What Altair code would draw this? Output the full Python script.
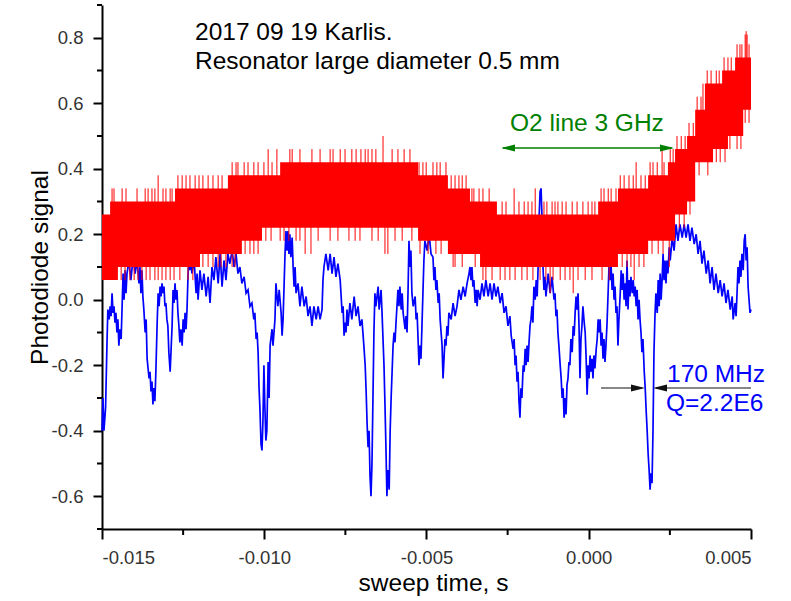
import altair as alt
import pandas as pd

# ---------------- data (time in ms, signal in V) ----------------
blue_trace = [
(-15.00,-0.40),(-14.97,-0.30),(-14.94,-0.40),(-14.89,-0.33),(-14.85,-0.15),(-14.82,-0.03),(-14.78,-0.06),(-14.75,-0.02),(-14.72,-0.05),(-14.69,0.02),
(-14.66,-0.04),(-14.63,-0.02),(-14.60,-0.07),(-14.57,-0.04),(-14.54,-0.10),(-14.51,-0.06),(-14.48,-0.14),(-14.45,-0.09),(-14.41,-0.12),(-14.38,-0.02),
(-14.35,0.08),(-14.32,0.00),(-14.29,0.09),(-14.26,0.02),(-14.23,0.08),(-14.17,0.12),(-14.11,0.06),(-14.04,0.13),(-13.98,0.08),(-13.92,0.12),
(-13.86,0.05),(-13.83,0.10),(-13.80,0.02),(-13.77,0.09),(-13.74,0.01),(-13.71,-0.03),(-13.67,-0.10),(-13.64,-0.06),(-13.61,-0.18),(-13.58,-0.21),
(-13.55,-0.24),(-13.52,-0.22),(-13.49,-0.28),(-13.46,-0.25),(-13.43,-0.32),(-13.40,-0.27),(-13.37,-0.31),(-13.34,-0.22),(-13.30,-0.07),(-13.27,0.02),
(-13.24,-0.02),(-13.21,0.04),(-13.18,0.01),(-13.15,0.05),(-13.12,0.02),(-13.09,0.04),(-13.06,-0.02),(-13.03,-0.01),(-13.00,-0.06),(-12.97,-0.08),
(-12.94,-0.16),(-12.90,-0.22),(-12.87,-0.15),(-12.84,-0.08),(-12.81,0.03),(-12.78,-0.01),(-12.75,0.05),(-12.72,0.00),(-12.69,0.03),(-12.66,-0.04),
(-12.63,-0.08),(-12.60,-0.13),(-12.57,-0.09),(-12.53,-0.14),(-12.50,-0.06),(-12.47,-0.10),(-12.44,-0.04),(-12.41,-0.09),(-12.38,-0.03),(-12.35,0.07),
(-12.32,0.14),(-12.29,0.09),(-12.26,0.13),(-12.23,0.08),(-12.16,0.12),(-12.10,0.02),(-12.07,0.08),(-12.04,0.00),(-11.98,0.09),(-11.92,0.03),
(-11.86,0.08),(-11.79,0.01),(-11.73,0.07),(-11.67,-0.01),(-11.61,0.10),(-11.55,0.06),(-11.49,0.13),(-11.42,0.05),(-11.36,0.14),(-11.30,0.04),
(-11.24,0.12),(-11.18,0.06),(-11.12,0.14),(-11.06,0.11),(-10.99,0.15),(-10.93,0.10),(-10.87,0.14),(-10.81,0.08),(-10.75,0.10),(-10.69,0.05),
(-10.62,0.07),(-10.56,0.02),(-10.50,0.03),(-10.44,-0.02),(-10.38,-0.01),(-10.32,-0.06),(-10.29,-0.04),(-10.25,-0.12),(-10.22,-0.10),(-10.19,-0.16),
(-10.16,-0.27),(-10.13,-0.34),(-10.10,-0.44),(-10.07,-0.46),(-10.04,-0.37),(-10.01,-0.20),(-9.98,-0.33),(-9.95,-0.43),(-9.92,-0.40),(-9.88,-0.19),
(-9.85,-0.30),(-9.82,-0.14),(-9.76,-0.09),(-9.73,-0.14),(-9.67,-0.06),(-9.64,0.05),(-9.58,-0.02),(-9.54,0.03),(-9.48,-0.04),(-9.45,-0.11),
(-9.42,-0.06),(-9.39,0.04),(-9.36,0.14),(-9.33,0.21),(-9.30,0.15),(-9.27,0.21),(-9.24,0.14),(-9.21,0.20),(-9.18,0.13),(-9.14,0.19),
(-9.11,0.10),(-9.08,0.04),(-9.05,0.10),(-9.02,0.02),(-8.96,0.05),(-8.90,-0.02),(-8.84,0.04),(-8.77,-0.02),(-8.71,0.01),(-8.65,-0.05),
(-8.59,-0.02),(-8.53,-0.08),(-8.47,-0.02),(-8.40,-0.06),(-8.34,-0.02),(-8.28,-0.06),(-8.22,-0.03),(-8.19,0.06),(-8.16,0.10),(-8.10,0.14),
(-8.03,0.09),(-7.97,0.14),(-7.91,0.08),(-7.85,0.13),(-7.79,0.07),(-7.73,0.11),(-7.66,0.06),(-7.63,0.01),(-7.60,-0.04),(-7.57,-0.02),
(-7.54,-0.11),(-7.51,-0.07),(-7.48,-0.10),(-7.45,-0.03),(-7.42,-0.08),(-7.36,-0.01),(-7.30,-0.06),(-7.23,0.01),(-7.17,-0.05),(-7.11,-0.02),
(-7.05,-0.08),(-6.99,-0.06),(-6.93,-0.14),(-6.89,-0.20),(-6.86,-0.28),(-6.83,-0.38),(-6.80,-0.45),(-6.77,-0.40),(-6.74,-0.54),(-6.71,-0.60),
(-6.68,-0.50),(-6.65,-0.30),(-6.62,-0.10),(-6.59,0.02),(-6.56,-0.02),(-6.49,0.04),(-6.46,-0.03),(-6.40,0.03),(-6.37,-0.04),(-6.34,-0.12),
(-6.31,-0.20),(-6.28,-0.32),(-6.25,-0.45),(-6.22,-0.60),(-6.19,-0.52),(-6.15,-0.58),(-6.12,-0.40),(-6.09,-0.30),(-6.06,-0.22),(-6.03,-0.14),
(-6.00,-0.10),(-5.97,-0.13),(-5.94,-0.07),(-5.88,0.03),(-5.85,-0.02),(-5.82,0.04),(-5.78,-0.03),(-5.75,0.02),(-5.72,-0.04),(-5.66,-0.09),
(-5.63,-0.05),(-5.60,-0.10),(-5.57,0.02),(-5.54,0.18),(-5.51,0.10),(-5.48,0.15),(-5.45,0.02),(-5.41,-0.02),(-5.35,0.01),(-5.32,-0.06),
(-5.29,-0.04),(-5.26,-0.12),(-5.23,-0.20),(-5.20,-0.14),(-5.17,-0.18),(-5.14,-0.08),(-5.11,0.02),(-5.08,0.12),(-5.05,0.18),(-4.98,0.15),
(-4.92,0.20),(-4.86,0.14),(-4.80,0.13),(-4.77,0.06),(-4.74,0.10),(-4.71,0.03),(-4.68,0.06),(-4.64,-0.01),(-4.61,0.02),(-4.58,-0.06),
(-4.55,-0.10),(-4.52,-0.14),(-4.49,-0.24),(-4.46,-0.18),(-4.43,-0.12),(-4.40,-0.14),(-4.37,-0.08),(-4.34,-0.11),(-4.31,-0.04),(-4.24,-0.06),
(-4.18,-0.01),(-4.12,-0.05),(-4.06,-0.02),(-4.00,0.03),(-3.94,0.00),(-3.87,0.04),(-3.81,0.01),(-3.75,0.05),(-3.69,0.08),(-3.66,0.10),
(-3.63,0.06),(-3.60,0.10),(-3.57,0.04),(-3.54,0.06),(-3.50,-0.01),(-3.47,0.03),(-3.44,-0.02),(-3.41,0.03),(-3.35,0.00),(-3.29,0.05),
(-3.23,0.01),(-3.17,0.06),(-3.10,0.01),(-3.04,0.05),(-2.98,0.00),(-2.92,0.05),(-2.86,0.01),(-2.80,0.04),(-2.73,-0.01),(-2.67,0.02),
(-2.61,-0.04),(-2.55,-0.02),(-2.49,-0.08),(-2.43,-0.05),(-2.39,-0.11),(-2.33,-0.15),(-2.30,-0.12),(-2.27,-0.20),(-2.24,-0.17),(-2.21,-0.25),
(-2.18,-0.22),(-2.15,-0.31),(-2.12,-0.36),(-2.09,-0.27),(-2.06,-0.30),(-2.02,-0.20),(-1.99,-0.22),(-1.96,-0.15),(-1.93,-0.20),(-1.90,-0.14),
(-1.87,-0.19),(-1.84,-0.13),(-1.81,-0.08),(-1.78,-0.06),(-1.75,-0.02),(-1.72,-0.07),(-1.69,0.04),(-1.65,0.00),(-1.62,0.06),(-1.59,0.01),
(-1.56,0.10),(-1.53,0.25),(-1.50,0.33),(-1.47,0.34),(-1.44,0.25),(-1.41,0.10),(-1.38,0.03),(-1.35,0.07),(-1.32,0.01),(-1.25,0.08),
(-1.19,0.02),(-1.13,0.07),(-1.07,0.00),(-1.04,0.02),(-1.01,-0.05),(-0.98,-0.03),(-0.95,-0.10),(-0.92,-0.14),(-0.88,-0.20),(-0.85,-0.24),
(-0.82,-0.30),(-0.79,-0.27),(-0.76,-0.36),(-0.73,-0.30),(-0.70,-0.35),(-0.67,-0.26),(-0.64,-0.24),(-0.61,-0.19),(-0.58,-0.20),(-0.55,-0.12),
(-0.51,-0.16),(-0.48,-0.08),(-0.45,-0.11),(-0.42,-0.04),(-0.39,0.01),(-0.36,-0.03),(-0.33,0.02),(-0.30,-0.08),(-0.27,-0.24),(-0.24,-0.12),
(-0.21,-0.08),(-0.18,-0.02),(-0.14,-0.07),(-0.11,-0.10),(-0.08,-0.18),(-0.05,-0.29),(-0.02,-0.20),(0.01,-0.24),(0.04,-0.17),(0.07,-0.22),
(0.10,-0.18),(0.13,-0.24),(0.16,-0.17),(0.19,-0.21),(0.23,-0.15),(0.26,-0.12),(0.29,-0.06),(0.32,-0.10),(0.35,-0.06),(0.38,-0.14),
(0.41,-0.10),(0.44,-0.18),(0.47,-0.12),(0.50,-0.19),(0.53,-0.14),(0.56,-0.08),(0.60,0.03),(0.63,0.12),(0.66,0.06),(0.69,0.10),
(0.72,0.03),(0.75,0.08),(0.78,0.00),(0.81,0.04),(0.84,-0.04),(0.87,-0.02),(0.90,-0.14),(0.93,-0.06),(0.97,0.02),(1.00,0.09),
(1.03,0.03),(1.06,0.08),(1.09,0.00),(1.12,0.05),(1.15,-0.02),(1.18,0.12),(1.21,-0.03),(1.24,0.06),(1.27,0.01),(1.30,0.07),
(1.34,0.02),(1.37,0.06),(1.40,0.01),(1.43,0.04),(1.46,-0.02),(1.49,0.03),(1.52,-0.06),(1.55,0.00),(1.58,-0.06),(1.61,-0.10),
(1.64,-0.16),(1.67,-0.12),(1.71,-0.22),(1.74,-0.27),(1.77,-0.34),(1.80,-0.40),(1.83,-0.47),(1.86,-0.52),(1.89,-0.58),(1.92,-0.53),
(1.95,-0.56),(1.98,-0.40),(2.01,-0.16),(2.04,-0.05),(2.07,0.02),(2.11,-0.04),(2.14,0.06),(2.17,-0.02),(2.20,0.08),(2.23,0.00),
(2.26,0.06),(2.29,0.14),(2.32,0.06),(2.35,0.12),(2.38,0.05),(2.41,0.12),(2.44,0.08),(2.48,0.16),(2.51,0.12),(2.57,0.19),
(2.63,0.15),(2.69,0.23),(2.75,0.18),(2.81,0.23),(2.88,0.19),(2.94,0.23),(3.00,0.19),(3.06,0.23),(3.12,0.18),(3.18,0.22),
(3.25,0.17),(3.31,0.20),(3.37,0.14),(3.43,0.18),(3.49,0.11),(3.55,0.15),(3.62,0.08),(3.68,0.12),(3.74,0.05),(3.80,0.10),
(3.86,0.03),(3.92,0.08),(3.99,0.02),(4.05,0.06),(4.11,0.01),(4.17,0.05),(4.23,-0.01),(4.29,0.03),(4.36,-0.03),(4.42,0.01),
(4.45,-0.06),(4.51,-0.01),(4.54,-0.05),(4.57,0.02),(4.60,0.10),(4.63,0.05),(4.66,0.12),(4.69,0.07),(4.72,0.14),(4.76,0.09),
(4.79,0.18),(4.82,0.20),(4.85,0.12),(4.88,0.16),(4.91,0.04),(4.94,0.00),(4.97,-0.04),(5.00,-0.03),
]

# red trace: dense band (step levels) ...
band_ms = [-15.00, -14.75, -14.51, -12.75, -11.98, -11.12, -10.69, -10.07, -9.51, -5.26,
           -4.34, -3.66, -3.35, -2.83, 0.29, 0.90, 1.83, 2.44, 2.66, 3.03,
           3.28, 3.58, 3.83, 4.11, 4.29, 4.51, 4.76, 5.00]
band_lo = [0.06, 0.06, 0.10, 0.10, 0.14, 0.14, 0.18, 0.22, 0.22, 0.18,
           0.14, 0.14, 0.10, 0.10, 0.10, 0.14, 0.18, 0.18, 0.26, 0.30,
           0.42, 0.42, 0.46, 0.46, 0.50, 0.50, 0.58, 0.58]
band_hi = [0.26, 0.30, 0.30, 0.34, 0.34, 0.38, 0.38, 0.38, 0.42, 0.38,
           0.34, 0.30, 0.30, 0.26, 0.30, 0.34, 0.38, 0.42, 0.46, 0.50,
           0.58, 0.66, 0.66, 0.70, 0.70, 0.74, 0.74, 0.74]

# ... and its isolated excursions (time ms, tip value)
spikes_up = [
(-14.69,0.34),(-14.63,0.34),(-14.38,0.34),(-14.26,0.34),(-13.92,0.34),(-13.67,0.34),(-13.58,0.34),(-13.46,0.34),(-13.37,0.34),(-13.27,0.38),
(-13.12,0.34),(-13.03,0.34),(-12.90,0.34),(-12.84,0.34),(-12.66,0.38),(-12.53,0.38),(-12.41,0.38),(-12.29,0.38),(-12.13,0.38),(-12.01,0.38),
(-11.89,0.38),(-11.73,0.38),(-11.58,0.38),(-11.42,0.38),(-11.30,0.38),(-10.99,0.42),(-10.87,0.42),(-10.81,0.42),(-10.62,0.42),(-10.50,0.42),
(-10.32,0.42),(-10.19,0.42),(-10.01,0.42),(-9.88,0.46),(-9.76,0.42),(-9.61,0.46),(-9.21,0.46),(-9.14,0.46),(-8.90,0.46),(-8.53,0.46),
(-8.28,0.46),(-7.97,0.46),(-7.88,0.46),(-7.66,0.46),(-7.51,0.46),(-7.30,0.46),(-7.17,0.46),(-7.02,0.46),(-6.89,0.46),(-6.80,0.46),
(-6.68,0.46),(-6.56,0.46),(-6.34,0.50),(-6.06,0.46),(-5.88,0.46),(-5.69,0.46),(-5.51,0.46),(-5.23,0.42),(-5.11,0.42),(-5.01,0.42),
(-4.80,0.42),(-4.68,0.42),(-4.58,0.42),(-4.40,0.42),(-4.24,0.38),(-4.12,0.38),(-4.00,0.38),(-3.90,0.38),(-3.78,0.38),(-3.60,0.34),
(-3.54,0.34),(-3.38,0.34),(-3.26,0.34),(-3.07,0.34),(-2.67,0.30),(-2.55,0.30),(-2.30,0.34),(-2.15,0.30),(-1.99,0.30),(-1.87,0.30),
(-1.75,0.30),(-1.65,0.34),(-1.38,0.30),(-1.29,0.30),(-1.13,0.30),(-1.04,0.30),(-0.95,0.30),(-0.82,0.30),(-0.70,0.30),(-0.51,0.30),
(-0.36,0.30),(-0.18,0.30),(-0.02,0.30),(0.10,0.30),(0.19,0.30),(0.38,0.34),(0.47,0.34),(0.60,0.34),(0.69,0.34),(0.84,0.34),
(0.97,0.38),(1.09,0.38),(1.24,0.38),(1.37,0.38),(1.46,0.42),(1.61,0.38),(1.74,0.38),(1.89,0.42),(1.98,0.42),(2.11,0.42),
(2.26,0.46),(2.32,0.42),(2.51,0.46),(2.60,0.46),(2.72,0.50),(2.85,0.50),(2.97,0.50),(3.09,0.54),(3.22,0.54),(3.34,0.62),
(3.46,0.62),(3.52,0.66),(3.65,0.70),(3.77,0.70),(3.93,0.70),(4.02,0.70),(4.17,0.74),(4.29,0.74),(4.39,0.74),(4.57,0.78),
(4.66,0.78),(4.72,0.78),(4.82,0.81),(4.85,0.82),(4.88,0.81),(4.94,0.78),
]
spikes_down = [
(-14.41,0.06),(-14.29,0.06),(-14.14,0.06),(-14.01,0.06),(-13.89,0.06),(-13.77,0.06),(-13.64,0.06),(-13.52,0.06),(-13.37,0.06),(-13.27,0.06),
(-13.15,0.06),(-13.03,0.06),(-12.90,0.06),(-12.78,0.06),(-12.60,0.06),(-12.35,0.06),(-12.20,0.06),(-11.89,0.10),(-11.73,0.10),(-11.58,0.10),
(-11.42,0.10),(-11.33,0.10),(-11.18,0.10),(-10.99,0.10),(-10.90,0.10),(-10.59,0.14),(-10.44,0.14),(-10.32,0.14),(-10.19,0.14),(-9.95,0.18),
(-9.79,0.18),(-9.51,0.18),(-9.39,0.18),(-9.24,0.18),(-9.02,0.18),(-8.90,0.18),(-8.74,0.14),(-8.56,0.14),(-8.34,0.18),(-7.97,0.18),
(-7.73,0.18),(-7.39,0.18),(-7.20,0.18),(-7.05,0.18),(-6.68,0.18),(-6.49,0.18),(-6.28,0.14),(-6.19,0.14),(-5.97,0.18),(-5.75,0.18),
(-5.45,0.18),(-5.20,0.14),(-4.95,0.14),(-4.71,0.14),(-4.55,0.14),(-4.18,0.10),(-4.12,0.10),(-3.90,0.10),(-3.50,0.10),(-3.26,0.06),
(-3.17,0.06),(-2.98,0.06),(-2.73,0.06),(-2.58,0.06),(-2.43,0.06),(-2.27,0.06),(-2.06,0.06),(-1.90,0.06),(-1.72,0.06),(-1.50,0.06),
(-1.32,0.06),(-1.19,0.02),(-1.10,0.06),(-0.88,0.06),(-0.73,0.06),(-0.58,0.06),(-0.48,0.02),(-0.33,0.06),(-0.11,0.06),(0.10,0.06),
(0.41,0.06),(0.63,0.06),(1.03,0.10),(1.18,0.10),(1.30,0.10),(1.40,0.06),(1.55,0.10),(1.70,0.10),(1.95,0.14),(2.14,0.14),
(2.29,0.14),(2.48,0.10),(2.79,0.22),(2.94,0.22),(3.12,0.26),(3.40,0.38),(3.67,0.38),(3.93,0.42),(4.05,0.42),(4.20,0.42),
(4.35,0.46),(4.57,0.46),(4.69,0.46),(4.82,0.54),(4.94,0.54),
]

x_ticks = [-0.015, -0.010, -0.005, 0.0, 0.005]
x_minor = [-0.0125, -0.0075, -0.0025, 0.0025]
y_ticks = [-0.6, -0.4, -0.2, 0.0, 0.2, 0.4, 0.6, 0.8]
y_minor = [-0.7, -0.5, -0.3, -0.1, 0.1, 0.3, 0.5, 0.7, 0.9]

# ---------------- tables ----------------
blue = pd.DataFrame(blue_trace, columns=["ms", "v"])
blue["t"] = blue["ms"] / 1000.0

band = pd.DataFrame({"t": [m / 1000.0 for m in band_ms], "lo": band_lo, "hi": band_hi})
band["mid"] = (band["lo"] + band["hi"]) / 2.0

spk = pd.DataFrame(spikes_up + spikes_down, columns=["ms", "v"])
spk["t"] = spk["ms"] / 1000.0
spk = spk.sort_values("t").reset_index(drop=True)
spk = pd.merge_asof(spk, band[["t", "mid"]].sort_values("t"), on="t")

FONT = "Liberation Sans"
xscale = alt.Scale(domain=[-0.015, 0.005], nice=False, zero=False)
yscale = alt.Scale(domain=[-0.7, 0.9], nice=False, zero=False)

xaxis = alt.Axis(
    values=x_ticks,
    labelExpr="replace(format(datum.value, '.3f'), '\u2212', '-')",
    title="sweep time, s",
    tickSize=10, labelPadding=9,
    titleBaseline="alphabetic", titleY=61, titleX=331, titleAlign="center",
)
yaxis = alt.Axis(
    values=y_ticks,
    labelExpr="replace(format(datum.value, '.1f'), '\u2212', '-')",
    title="Photodiode signal",
    tickSize=9, labelPadding=10,
    titleBaseline="alphabetic", titleX=-55, titleY=262, titleAlign="center",
)


def X(field):
    return alt.X(field, scale=xscale, axis=xaxis)


def Y(field):
    return alt.Y(field, scale=yscale, axis=yaxis)


blue_layer = alt.Chart(blue).mark_line(color="#0000ff", strokeWidth=1.7).encode(
    x=X("t:Q"), y=Y("v:Q"),
)

band_layer = alt.Chart(band).mark_area(color="#ff0000", interpolate="step-after", opacity=1).encode(
    x=X("t:Q"), y=Y("lo:Q"), y2="hi:Q",
)

spike_layer = alt.Chart(spk).mark_rule(color="#ff0000", strokeWidth=1).encode(
    x=X("t:Q"), y=Y("v:Q"), y2="mid:Q",
)

xminor_layer = alt.Chart(pd.DataFrame({"t": x_minor})).mark_rule(color="black", strokeWidth=2).encode(
    x=X("t:Q"), y=alt.value(524), y2=alt.value(530),
)
yminor_layer = alt.Chart(pd.DataFrame({"v": y_minor})).mark_rule(color="black", strokeWidth=2).encode(
    y=Y("v:Q"), x=alt.value(-5), x2=alt.value(0),
)

one = pd.DataFrame({"k": [0]})


def label(txt, x, y, color="black"):
    return alt.Chart(one).mark_text(
        text=txt, align="left", baseline="alphabetic", font=FONT, fontSize=24.5, color=color
    ).encode(x=alt.value(x), y=alt.value(y))


def hline(x1, x2, y, color, w):
    return alt.Chart(one).mark_rule(color=color, strokeWidth=w).encode(
        x=alt.value(x1), x2=alt.value(x2), y=alt.value(y)
    )


HEAD_R = "M1,0L-1,-0.5L-1,0.5Z"
HEAD_L = "M-1,0L1,-0.5L1,0.5Z"


def head(shape, x, y, color):
    return alt.Chart(one).mark_point(
        shape=shape, filled=True, size=196, color=color, opacity=1, strokeWidth=0
    ).encode(x=alt.value(x), y=alt.value(y))


GREEN = "#008000"
annotations = [
    label("2017 09 19 Karlis.", 93, 34.5),
    label("Resonator large diameter 0.5 mm", 93, 64),
    label("O2 line 3 GHz", 408, 126, GREEN),
    hline(401, 570, 143, GREEN, 1.5),
    head(HEAD_L, 406, 143, GREEN),
    head(HEAD_R, 565, 143, GREEN),
    label("170 MHz", 565, 377, "#0000ff"),
    label("Q=2.2E6", 564, 406, "#0000ff"),
    hline(499, 540, 383, "#111111", 1),
    hline(554, 649, 383, "#111111", 1),
    head(HEAD_R, 536, 383, "#111111"),
    head(HEAD_L, 558, 383, "#111111"),
]

chart = alt.layer(
    blue_layer, band_layer, spike_layer, xminor_layer, yminor_layer, *annotations
).properties(
    width=649,
    height=524,
    autosize=alt.AutoSizeParams(type="none"),
    padding={"left": 102, "top": 5, "right": 40, "bottom": 72},
    background="white",
).configure_view(
    strokeWidth=0
).configure_axis(
    grid=False,
    domainColor="black", domainWidth=2,
    tickColor="black", tickWidth=2,
    labelFont=FONT, labelFontSize=18.5, labelColor="#333333",
    titleFont=FONT, titleFontSize=24.5, titleFontWeight="normal", titleColor="black",
)

chart.save("out.html", embed_options={"renderer": "svg", "actions": False})
